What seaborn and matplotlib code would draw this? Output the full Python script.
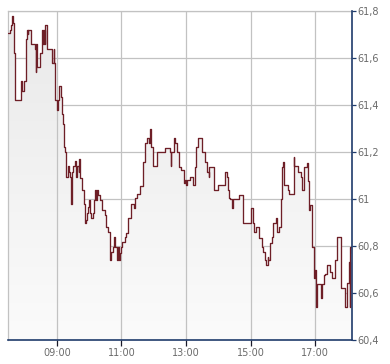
import matplotlib
matplotlib.use("Agg")
import matplotlib.pyplot as plt
import matplotlib.dates as mdates
from matplotlib.patches import PathPatch
import numpy as np
import pandas as pd
import seaborn as sns

# ---- data (minutes after 07:30, price) ----
session_start = "2024-01-02 07:30"
minutes = [0, 3, 5, 6, 7, 9, 10, 13, 23, 25, 29, 32, 34, 36, 37, 42, 49, 51, 52, 54,
           58, 59, 63, 64, 66, 68, 69, 72, 81, 84, 85, 87, 91, 93, 95, 97, 100, 101, 103, 106,
           107, 110, 112, 115, 117, 118, 121, 123, 126, 127, 131, 132, 134, 137, 141, 142, 144, 146, 148, 150,
           152, 154, 157, 159, 161, 162, 164, 167, 171, 174, 179, 182, 185, 188, 190, 194, 196, 198, 201, 202,
           204, 206, 207, 209, 211, 216, 219, 222, 227, 234, 236, 239, 245, 250, 253, 258, 261, 264, 266, 268,
           277, 291, 300, 302, 303, 308, 310, 313, 314, 317, 320, 326, 329, 331, 332, 338, 344, 347, 349, 353,
           359, 365, 370, 372, 373, 382, 383, 390, 403, 407, 409, 410, 412, 415, 418, 429, 436, 450, 454, 457,
           460, 466, 471, 474, 476, 479, 482, 483, 486, 489, 492, 497, 500, 502, 506, 509, 511, 513, 519, 521,
           530, 531, 539, 543, 546, 549, 554, 556, 559, 561, 564, 567, 569, 571, 573, 581, 582, 587, 589, 592,
           598, 601, 607, 611, 618, 626, 629, 632, 634, 635, 638]
prices = [61.706, 61.72, 61.74, 61.76, 61.78, 61.75, 61.62, 61.42, 61.50, 61.46, 61.50, 61.68, 61.72, 61.70, 61.72, 61.66, 61.64, 61.54, 61.66, 61.56,
          61.565, 61.62, 61.72, 61.66, 61.72, 61.66, 61.74, 61.64, 61.58, 61.64, 61.58, 61.42, 61.38, 61.42, 61.48, 61.435, 61.36, 61.32, 61.22, 61.20,
          61.095, 61.14, 61.115, 61.095, 60.98, 61.115, 61.14, 61.16, 61.095, 61.14, 61.115, 61.17, 61.09, 61.04, 60.98, 60.90, 60.91, 60.94, 60.967, 60.996,
          60.94, 60.918, 60.94, 60.996, 61.04, 60.996, 61.04, 61.017, 60.996, 60.953, 60.93, 60.882, 60.861, 60.74, 60.776, 60.797, 60.84, 60.797, 60.769, 60.74,
          60.797, 60.74, 60.769, 60.797, 60.818, 60.84, 60.857, 60.918, 60.977, 60.96, 61.003, 61.02, 61.055, 61.159, 61.24, 61.258, 61.237, 61.297, 61.223, 61.14,
          61.20, 61.218, 61.20, 61.14, 61.20, 61.258, 61.237, 61.216, 61.20, 61.137, 61.123, 61.067, 61.081, 61.06, 61.081, 61.095, 61.06, 61.137, 61.223, 61.258,
          61.199, 61.159, 61.116, 61.095, 61.137, 61.081, 61.038, 61.06, 61.116, 61.095, 61.038, 61.003, 60.999, 60.96, 60.999, 61.017, 60.897, 60.96, 60.897, 60.861,
          60.88, 60.833, 60.797, 60.776, 60.74, 60.719, 60.755, 60.74, 60.812, 60.84, 60.897, 60.918, 60.861, 60.882, 60.999, 61.137, 61.159, 61.06, 61.038, 61.021,
          61.177, 61.14, 61.116, 61.095, 61.038, 61.137, 61.154, 61.077, 60.953, 60.974, 60.797, 60.663, 60.698, 60.542, 60.637, 60.578, 60.637, 60.677, 60.681, 60.719,
          60.691, 60.663, 60.74, 60.837, 60.62, 60.542, 60.644, 60.733, 60.542, 60.797, 60.769]
session_end = "2024-01-02 18:09"
y_ticks = [60.4, 60.6, 60.8, 61.0, 61.2, 61.4, 61.6, 61.8]
y_tick_labels = ["60,4", "60,6", "60,8", "61", "61,2", "61,4", "61,6", "61,8"]
x_tick_hours = [9, 11, 13, 15, 17]

df = pd.DataFrame({
    "time": pd.Timestamp(session_start) + pd.to_timedelta(minutes, unit="m"),
    "price": prices,
})

sns.set_style("white")
plt.rcParams["font.family"] = ["DejaVu Sans"]

fig = plt.figure(figsize=(3.9, 3.64), dpi=100)
ax = fig.add_axes([8.3 / 390, 1 - 340 / 364, (352.3 - 8.3) / 390, (340 - 11) / 364])

t0 = pd.Timestamp(session_start)
t1 = pd.Timestamp(session_end)
ymin, ymax = 60.4, 61.8

# gradient fill under the step line
xs = list(df["time"]) + [t1]
ys = list(df["price"]) + [df["price"].iloc[-1]]
poly = ax.fill_between(xs, ys, ymin, step="post", facecolor="none", edgecolor="none")
path = poly.get_paths()[0]
patch = PathPatch(path, transform=ax.transData, facecolor="none", edgecolor="none")
ax.add_patch(patch)
grad = np.linspace(0, 1, 256).reshape(-1, 1)
from matplotlib.colors import LinearSegmentedColormap
cmap = LinearSegmentedColormap.from_list("g", ["#e9e9e9", "#fbfbfb"])
im = ax.imshow(grad, cmap=cmap, aspect="auto",
               extent=[mdates.date2num(t0), mdates.date2num(t1), ymin, ymax],
               origin="upper", zorder=1)
im.set_clip_path(patch)

# grid
ax.set_axisbelow(False)
for yt in y_ticks:
    ax.axhline(yt, color="#c2c2c2", lw=0.9, zorder=0.5)
for h in x_tick_hours:
    ax.axvline(pd.Timestamp(session_start).replace(hour=h, minute=0), color="#c2c2c2", lw=0.9, zorder=1.5)

# step line
sns.lineplot(data=df.assign(seg=0), x="time", y="price", ax=ax, estimator=None,
             drawstyle="steps-post", color="#6e1f27", linewidth=0.95, zorder=3)
ax.plot([df["time"].iloc[-1], t1], [ys[-1], ys[-1]], color="#6e1f27", lw=0.95, zorder=3)

ax.set_xlim(t0, t1)
ax.set_ylim(ymin, ymax)
ax.set_xlabel("")
ax.set_ylabel("")

ax.yaxis.tick_right()
ax.set_yticks(y_ticks)
ax.set_yticklabels(y_tick_labels)
ax.xaxis.set_major_locator(mdates.HourLocator(byhour=x_tick_hours))
ax.xaxis.set_major_formatter(mdates.DateFormatter("%H:%M"))

ax.tick_params(axis="y", which="both", right=True, left=False, direction="out",
               length=3, width=0.9, color="#1f3b6b", labelsize=7, labelcolor="#6a6a6a", pad=1)
ax.tick_params(axis="x", which="both", bottom=True, direction="out",
               length=4, width=0.9, color="#1a1a2a", labelsize=7, labelcolor="#6a6a6a", pad=2)

for side in ["left", "top"]:
    ax.spines[side].set_color("#c2c2c2")
    ax.spines[side].set_linewidth(0.9)
for side in ["right", "bottom"]:
    ax.spines[side].set_color("#1f3b6b")
    ax.spines[side].set_linewidth(1.2)
    ax.spines[side].set_zorder(5)

fig.savefig("out.png", dpi=100, facecolor="white")
